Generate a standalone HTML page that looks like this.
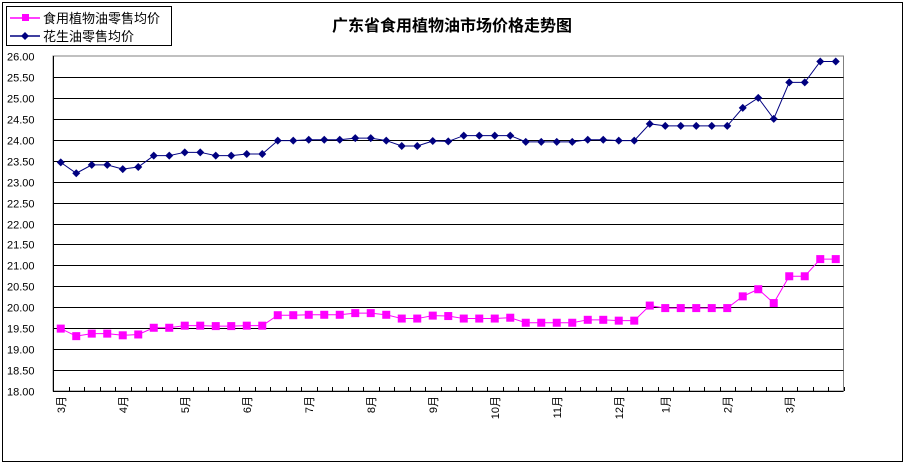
<!DOCTYPE html>
<html><head><meta charset="utf-8"><style>
body{margin:0;background:#fff;}
svg text{font-family:"Liberation Sans","Noto Sans CJK SC",sans-serif;}
</style></head><body>
<svg width="905" height="471" viewBox="0 0 905 471" xmlns="http://www.w3.org/2000/svg">
<rect x="2.5" y="2.5" width="900" height="459" fill="#fff" stroke="#000" stroke-width="1"/>
<text x="452" y="31" text-anchor="middle" font-size="16" font-weight="bold" font-family="'Noto Sans CJK SC',sans-serif">广东省食用植物油市场价格走势图</text>
<g>
<rect x="6.5" y="6.5" width="165" height="39" fill="#fff" stroke="#000"/>
<line x1="10" y1="18" x2="40" y2="18" stroke="#ff00ff" stroke-width="1.5"/>
<rect x="22" y="14" width="7" height="7" fill="#ff00ff"/>
<text x="43" y="23" font-size="13" font-family="'Noto Sans CJK SC',sans-serif">食用植物油零售均价</text>
<line x1="10" y1="36" x2="40" y2="36" stroke="#000080" stroke-width="1.5"/>
<path d="M25 32L29 36L25 40L21 36Z" fill="#000080"/>
<text x="43" y="41" font-size="13" font-family="'Noto Sans CJK SC',sans-serif">花生油零售均价</text>
</g>
<g id="grid"></g><g id="axes"></g><g id="series"></g>
</svg>
<script>
const categories=["3月","","","","4月","","","","5月","","","","6月","","","","7月","","","","8月","","","","9月","","","","10月","","","","11月","","","","12月","","","1月","","","","2月","","","","3月","","",""];
const peanutValues=[23.46,23.2,23.4,23.4,23.3,23.35,23.62,23.62,23.7,23.7,23.62,23.62,23.66,23.66,23.98,23.98,24.0,24.0,24.0,24.04,24.04,23.98,23.85,23.85,23.97,23.96,24.1,24.1,24.1,24.1,23.95,23.95,23.95,23.95,24.0,24.0,23.98,23.98,24.38,24.33,24.33,24.33,24.33,24.33,24.76,25.0,24.5,25.37,25.37,25.87,25.87];
const edibleValues=[19.49,19.31,19.37,19.37,19.33,19.35,19.51,19.51,19.56,19.56,19.55,19.55,19.56,19.56,19.81,19.81,19.82,19.82,19.82,19.86,19.86,19.82,19.73,19.73,19.8,19.79,19.73,19.73,19.73,19.75,19.63,19.63,19.63,19.63,19.7,19.7,19.68,19.68,20.04,19.98,19.98,19.98,19.98,19.98,20.26,20.43,20.1,20.74,20.74,21.15,21.15];
const yTicks=[18,18.5,19,19.5,20,20.5,21,21.5,22,22.5,23,23.5,24,24.5,25,25.5,26];
const NS="http://www.w3.org/2000/svg";
const L=53,R=843.5,T=56,B=391,yMin=18,yMax=26;
const cw=(R-L)/categories.length;
const xS=i=>L+(i+0.5)*cw;
const yS=v=>B-(v-yMin)/(yMax-yMin)*(B-T);
function mk(tag,attrs,parent){const e=document.createElementNS(NS,tag);for(const k in attrs)e.setAttribute(k,attrs[k]);parent.appendChild(e);return e;}
const grid=document.getElementById('grid'),axes=document.getElementById('axes'),ser=document.getElementById('series');
mk('rect',{x:L,y:T,width:R-L,height:B-T,fill:'#fff',stroke:'#808080'},grid);
yTicks.forEach(v=>{
 const y=Math.round(yS(v))+0.5;
 if(v>yMin&&v<yMax){const g=mk('line',{x1:L,x2:R,y1:y,y2:y,stroke:'#000','stroke-width':1},grid);
 
 }
 const t=mk('text',{x:7,y:y+4,'font-size':11},axes);t.textContent=v.toFixed(2);
 
 
});
mk('line',{x1:L+0.5,x2:L+0.5,y1:T,y2:B,stroke:'#000'},axes);
mk('line',{x1:L,x2:R,y1:B+0.5,y2:B+0.5,stroke:'#000'},axes);
categories.forEach((c,i)=>{
 const tx=Math.round(L+(i+1)*cw)+0.5;
 mk('line',{x1:tx,x2:tx,y1:B-4,y2:B,stroke:'#000'},axes);
 if(c){const x=xS(i)+4,y=396;
 const t=mk('text',{x:x,y:y,'font-size':11,'text-anchor':'end',transform:`rotate(-90 ${x} ${y})`,'font-family':"'Noto Sans CJK SC',sans-serif"},axes);t.textContent=c;
 
 }
});
function line(vals,color,name,marker){
 const p=mk('polyline',{points:vals.map((v,i)=>xS(i)+','+yS(v)).join(' '),fill:'none',stroke:color,'stroke-width':1},ser);
 
 
 vals.forEach((v,i)=>{const x=xS(i),y=yS(v);let m;
  if(marker==='sq')m=mk('rect',{x:x-4,y:y-4,width:8,height:8,fill:color},ser);
  else m=mk('path',{d:`M${x} ${y-4}L${x+4} ${y}L${x} ${y+4}L${x-4} ${y}Z`,fill:color},ser);
  
  
 });
}
line(edibleValues,'#ff00ff','edible-oil','sq');
line(peanutValues,'#000080','peanut-oil','dia');
</script>
</body></html>
